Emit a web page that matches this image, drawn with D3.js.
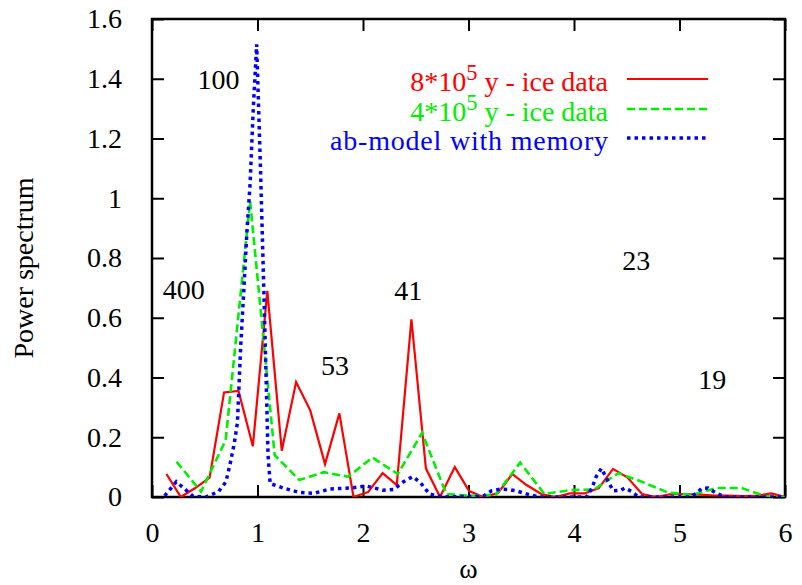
<!DOCTYPE html>
<html>
<head>
<meta charset="utf-8">
<script src="https://cdn.jsdelivr.net/npm/d3@7"></script>
<style>
  body { margin: 0; background: #fff; }
  svg text { font-family: "Liberation Serif", Tinos, "Times New Roman", Times, "DejaVu Serif", serif; }
</style>
</head>
<body>
<div id="chart"></div>
<script>
const width = 802, height = 585;
const margin = {top: 19, right: 17, bottom: 88, left: 152};

// 8*10^5 y ice data (red, solid)
const omegaRed = [0.137, 0.273, 0.41, 0.546, 0.683, 0.82, 0.956, 1.093, 1.23, 1.366, 1.50, 1.64,
    1.776, 1.91, 2.05, 2.186, 2.32, 2.459, 2.596, 2.73, 2.87, 3.006, 3.14, 3.28, 3.415, 3.55,
    3.69, 3.825, 3.96, 4.10, 4.235, 4.37, 4.508, 4.645, 4.78, 4.92, 5.055, 5.19, 5.33, 5.46,
    5.60, 5.74, 5.87, 6.0];
const powerRed = [0.077, 0.0, 0.03, 0.065, 0.35, 0.355, 0.17, 0.69, 0.155, 0.385, 0.29, 0.11,
    0.28, 0.0, 0.017, 0.08, 0.04, 0.595, 0.096, 0.0, 0.10, 0.02, 0.0, 0.013, 0.077, 0.04,
    0.01, 0.0, 0.012, 0.012, 0.03, 0.094, 0.065, 0.01, 0.0, 0.01, 0.01, 0.008, 0.005, 0.005,
    0.003, 0.005, 0.012, 0.0];

// 4*10^5 y ice data (green, dashed)
const omegaGreen = [0.233, 0.465, 0.698, 0.93, 1.163, 1.396, 1.629, 1.86, 2.09, 2.33, 2.56,
    2.79, 3.02, 3.26, 3.49, 3.72, 3.96, 4.19, 4.42, 4.65, 4.89, 5.12, 5.35, 5.59, 5.82, 6.0];
const powerGreen = [0.118, 0.018, 0.19, 0.99, 0.14, 0.057, 0.083, 0.068, 0.132, 0.077, 0.215,
    0.01, 0.004, 0.008, 0.115, 0.01, 0.023, 0.025, 0.08, 0.05, 0.015, 0.007, 0.03, 0.03, 0.002, 0.0];

// ab-model with memory (blue, dotted)
const omegaBlue = [0.12, 0.23, 0.30, 0.39, 0.51, 0.63, 0.70, 0.74, 0.78, 0.81, 0.84, 0.87, 0.90,
    0.93, 0.96, 0.992, 1.03, 1.07, 1.10, 1.12, 1.245, 1.40, 1.53, 1.69, 1.88, 2.03, 2.19, 2.29,
    2.38, 2.47, 2.54, 2.63, 2.75, 3.14, 3.22, 3.30, 3.38, 3.46, 3.58, 3.68, 4.12, 4.17, 4.21,
    4.26, 4.31, 4.37, 4.44, 4.48, 4.55, 4.61, 5.10, 5.16, 5.21, 5.27, 5.34, 5.43, 6.0];
const powerBlue = [0.004, 0.051, 0.03, 0.002, 0.0, 0.018, 0.05, 0.11, 0.18, 0.25, 0.5, 0.69, 0.89,
    1.05, 1.3, 1.515, 1.08, 0.56, 0.14, 0.045, 0.03, 0.015, 0.012, 0.027, 0.03, 0.037, 0.023, 0.025,
    0.05, 0.068, 0.05, 0.01, 0.0, 0.003, 0.021, 0.026, 0.025, 0.02, 0.007, 0.0, 0.0, 0.03, 0.068,
    0.096, 0.062, 0.021, 0.022, 0.03, 0.018, 0.0, 0.0, 0.012, 0.029, 0.03, 0.015, 0.0, 0.0];

const seriesNames = ["8*10|5| y - ice data", "4*10|5| y - ice data", "ab-model with memory"];
const seriesColors = ["#ff0000", "#00ee00", "#0000ff"];

// period annotations (years), placed in data coordinates
const periodText = ["100", "400", "53", "41", "23", "19"];
const periodOmega = [0.63, 0.30, 1.735, 2.43, 4.59, 5.31];
const periodPower = [1.366, 0.663, 0.41, 0.66, 0.76, 0.36];

const xTicks = [0, 1, 2, 3, 4, 5, 6];
const yTicks = [0, 0.2, 0.4, 0.6, 0.8, 1, 1.2, 1.4, 1.6];

const serif = '"Liberation Serif", Tinos, "Times New Roman", Times, "DejaVu Serif", serif';

const x = d3.scaleLinear().domain([0, 6]).range([margin.left, width - margin.right]);
const y = d3.scaleLinear().domain([0, 1.6]).range([height - margin.bottom, margin.top]);

const svg = d3.select("#chart").append("svg")
    .attr("width", width)
    .attr("height", height)
    .attr("font-family", serif);

svg.append("defs").append("clipPath").attr("id", "clip")
  .append("rect")
    .attr("x", margin.left).attr("y", margin.top)
    .attr("width", width - margin.left - margin.right)
    .attr("height", height - margin.top - margin.bottom);

const fontSize = 28;

// axes, ticks inward on all four sides (gnuplot mirror)
const tickLen = 12;
const axisBottom = svg.append("g")
    .attr("transform", "translate(0," + y(0) + ")")
    .call(d3.axisBottom(x).tickValues(xTicks).tickSize(-tickLen).tickPadding(tickLen + 13).tickFormat(d3.format("d")));
const axisTop = svg.append("g")
    .attr("transform", "translate(0," + y(1.6) + ")")
    .call(d3.axisTop(x).tickValues(xTicks).tickSize(-tickLen).tickFormat(""));
const axisLeft = svg.append("g")
    .attr("transform", "translate(" + x(0) + ",0)")
    .call(d3.axisLeft(y).tickValues(yTicks).tickSize(-tickLen).tickPadding(tickLen + 18).tickFormat(d => d));
const axisRight = svg.append("g")
    .attr("transform", "translate(" + x(6) + ",0)")
    .call(d3.axisRight(y).tickValues(yTicks).tickSize(-tickLen).tickFormat(""));

[axisBottom, axisTop, axisLeft, axisRight].forEach(g => {
    g.attr("font-family", serif).attr("font-size", fontSize);
    g.select(".domain").remove();
    g.selectAll(".tick line").attr("stroke", "#000").attr("stroke-width", 2);
    g.selectAll("text").attr("fill", "#000");
});
axisBottom.selectAll("text").attr("dy", "0.71em");

// frame
svg.append("rect")
    .attr("x", x(0)).attr("y", y(1.6))
    .attr("width", x(6) - x(0)).attr("height", y(0) - y(1.6))
    .attr("fill", "none").attr("stroke", "#000").attr("stroke-width", 2.5);

// curves
const line = d3.line().x(d => x(d[0])).y(d => y(d[1]));
const curves = [
    {om: omegaRed, pw: powerRed, dash: null, w: 2.2},
    {om: omegaGreen, pw: powerGreen, dash: "8,4", w: 2.6},
    {om: omegaBlue, pw: powerBlue, dash: "3.5,4", w: 3.5}
];
const plot = svg.append("g").attr("clip-path", "url(#clip)");
curves.forEach((c, i) => {
    plot.append("path")
        .datum(c.om.map((o, k) => [o, c.pw[k]]))
        .attr("fill", "none")
        .attr("stroke", seriesColors[i])
        .attr("stroke-width", c.w)
        .attr("stroke-dasharray", c.dash)
        .attr("stroke-linejoin", "miter")
        .attr("d", line);
});

// period labels
svg.selectAll("text.period")
    .data(periodText).enter()
    .append("text")
    .attr("class", "period")
    .attr("x", (d, i) => x(periodOmega[i]))
    .attr("y", (d, i) => y(periodPower[i]))
    .attr("text-anchor", "middle")
    .attr("font-size", fontSize)
    .text(d => d);

// legend
const legendTextX = 608, legendLineX1 = 627, legendLineX2 = 708;
const legendBase = [91, 121, 150];
seriesNames.forEach((name, i) => {
    const parts = name.split("|");
    const t = svg.append("text")
        .attr("x", legendTextX).attr("y", legendBase[i])
        .attr("text-anchor", "end")
        .attr("font-size", fontSize)
        .attr("fill", seriesColors[i]);
    if (parts.length === 3) {
        t.append("tspan").text(parts[0]);
        t.append("tspan").attr("dy", -11).attr("font-size", fontSize * 0.8).text(parts[1]);
        t.append("tspan").attr("dy", 11).text(parts[2]);
    } else {
        // the original renderer sets this entry a little wider
        t.attr("textLength", 278).attr("lengthAdjust", "spacing").text(name);
    }
    svg.append("line")
        .attr("x1", legendLineX1).attr("x2", legendLineX2)
        .attr("y1", legendBase[i] - 12).attr("y2", legendBase[i] - 12)
        .attr("stroke", seriesColors[i])
        .attr("stroke-width", curves[i].w)
        .attr("stroke-dasharray", curves[i].dash);
});

// axis titles
svg.append("text")
    .attr("transform", "translate(33," + ((y(0) + y(1.6)) / 2 + 10) + ") rotate(-90)")
    .attr("text-anchor", "middle")
    .attr("font-size", fontSize)
    .text("Power spectrum");

svg.append("text")
    .attr("x", (x(0) + x(6)) / 2)
    .attr("y", 578)
    .attr("text-anchor", "middle")
    .attr("font-size", fontSize)
    .text("ω");
</script>
</body>
</html>
